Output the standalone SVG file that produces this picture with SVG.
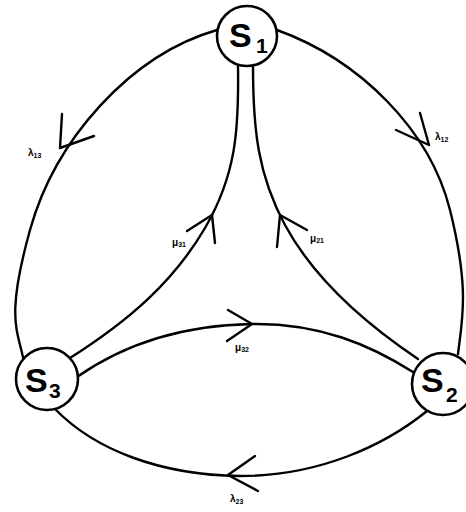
<svg xmlns="http://www.w3.org/2000/svg" width="466" height="512" viewBox="0 0 466 512">
<style>
.e{fill:none;stroke:#000;stroke-width:2.4;stroke-linecap:round;stroke-linejoin:round}
.n{fill:#fff;stroke:#000;stroke-width:2.6}
.s{font-family:"Liberation Sans",Arial,sans-serif;font-weight:bold;fill:#000}
.l{font-family:"Liberation Sans",Arial,sans-serif;font-weight:bold;font-size:10px;fill:#000}
</style>
<rect width="466" height="512" fill="#fff"/>
<g id="connectors">
<path class="e" d="M217,30 C130,55 55,140 30,230 S18,330 24,362"/>
<path class="e" d="M62,114 L60,148 L94,136"/>
<path class="e" d="M277,30 C360,60 430,130 450,210 S462,320 458,354"/>
<path class="e" d="M396,130 L429,145 L420,113"/>
<path class="e" d="M55,409 C95,450 160,475 240,476 C320,476 385,445 427,411"/>
<path class="e" d="M255,456 L228,475 L258,491"/>
<path class="e" d="M238,66 C239,130 236,175 205,228 S130,320 70,358"/>
<path class="e" d="M187,231 L212,215 L215,243"/>
<path class="e" d="M253,66 C253,130 258,175 285,225 S360,320 418,359"/>
<path class="e" d="M307,230 L280,215 L277,247"/>
<path class="e" d="M77,377 C130,340 190,325 252,324 C320,323 370,345 413,372"/>
<path class="e" d="M228,310 L252,324 L227,341"/>
<text class="l" x="28" y="156">λ<tspan font-size="7" dy="1.5">13</tspan></text>
<text class="l" x="435" y="140">λ<tspan font-size="7" dy="1.5">12</tspan></text>
<text class="l" x="172" y="246">μ<tspan font-size="7" dy="1">31</tspan></text>
<text class="l" x="310" y="242">μ<tspan font-size="7" dy="1">21</tspan></text>
<text class="l" x="235" y="351">μ<tspan font-size="7" dy="1">32</tspan></text>
<text class="l" x="230" y="502">λ<tspan font-size="7" dy="1.5">23</tspan></text>
</g>
<g id="S1">
<circle class="n" cx="247" cy="36" r="30"/>
<text class="s" x="229" y="47" font-size="34">S</text>
<text class="s" x="256" y="53" font-size="21">1</text>
</g>
<g id="S3">
<circle class="n" cx="47" cy="379" r="31"/>
<text class="s" x="25" y="392" font-size="34">S</text>
<text class="s" x="49" y="398" font-size="21">3</text>
</g>
<g id="S2">
<circle class="n" cx="443" cy="384" r="31"/>
<text class="s" x="421" y="392" font-size="34">S</text>
<text class="s" x="446" y="402" font-size="21">2</text>
</g>
</svg>
